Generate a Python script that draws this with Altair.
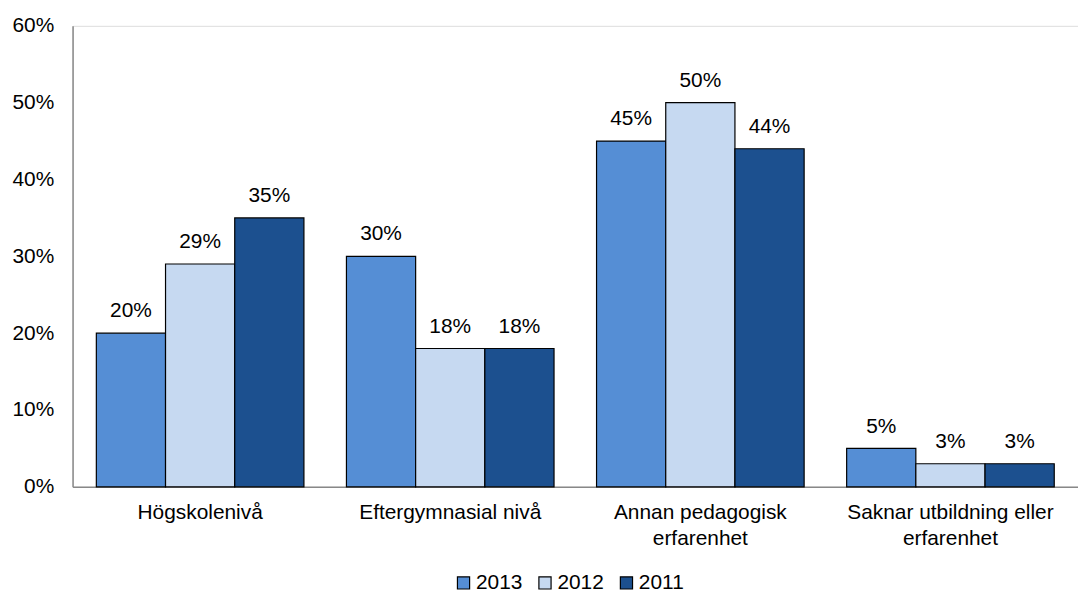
import altair as alt
import pandas as pd

categories = ["Högskolenivå", "Eftergymnasial nivå", "Annan pedagogisk erfarenhet", "Saknar utbildning eller erfarenhet"]
years = ["2013", "2012", "2011"]
v2013 = [0.20, 0.30, 0.45, 0.05]
v2012 = [0.29, 0.18, 0.50, 0.03]
v2011 = [0.35, 0.18, 0.44, 0.03]
colors = ["#558ED5", "#C6D9F1", "#1C508F"]

rows = []
for i, c in enumerate(categories):
    for y, vals in zip(years, [v2013, v2012, v2011]):
        rows.append({"cat": c, "year": y, "value": vals[i]})
df = pd.DataFrame(rows)

FONT = "Liberation Sans"
FS = 21

x = alt.X("cat:N", sort=categories, title=None,
          scale=alt.Scale(paddingInner=0.17, paddingOuter=0.095),
          axis=alt.Axis(labelAngle=0, labelFontSize=FS, labelFont=FONT, labelColor="black",
                        domainColor="#888888", domainWidth=1.5, ticks=False, labelPadding=15,
                        labelLimit=0,
                        labelExpr="datum.value == 'Annan pedagogisk erfarenhet' ? ['Annan pedagogisk', 'erfarenhet'] : datum.value == 'Saknar utbildning eller erfarenhet' ? ['Saknar utbildning eller', 'erfarenhet'] : datum.value",
                        labelLineHeight=26))
xo = alt.XOffset("year:N", sort=years, scale=alt.Scale(paddingInner=0, paddingOuter=0))

base = alt.Chart(df).encode(x=x, xOffset=xo)

bars = base.mark_bar(stroke="black", strokeWidth=1.2).encode(
    y=alt.Y("value:Q", title=None,
            scale=alt.Scale(domain=[0, 0.6]),
            axis=alt.Axis(format=".0%", values=[0, 0.1, 0.2, 0.3, 0.4, 0.5, 0.6], grid=False,
                          ticks=False, labelFontSize=FS, labelFont=FONT, labelColor="black",
                          domainColor="#888888", domainWidth=1.5, labelPadding=19)),
    color=alt.Color("year:N", sort=years, scale=alt.Scale(domain=years, range=colors),
                    legend=alt.Legend(title=None, orient="none", direction="horizontal",
                                      legendX=383, legendY=550,
                                      symbolType="square", symbolSize=150,
                                      symbolStrokeColor="black", symbolStrokeWidth=1.2,
                                      labelFontSize=FS, labelFont=FONT, labelColor="black",
                                      columnPadding=12, labelOffset=2)),
)

labels = base.mark_text(baseline="alphabetic", dy=-16, fontSize=FS, font=FONT, color="black").encode(
    y="value:Q",
    text=alt.Text("value:Q", format=".0%"),
)

chart = (bars + labels).properties(
    width=1012, height=464,
    autosize=alt.AutoSizeParams(type="none"),
    padding={"left": 65, "top": 16, "right": 0, "bottom": 118},
).configure_view(stroke=None).configure(background="white")

chart.save("out.html", embed_options={"renderer": "svg", "actions": False})
